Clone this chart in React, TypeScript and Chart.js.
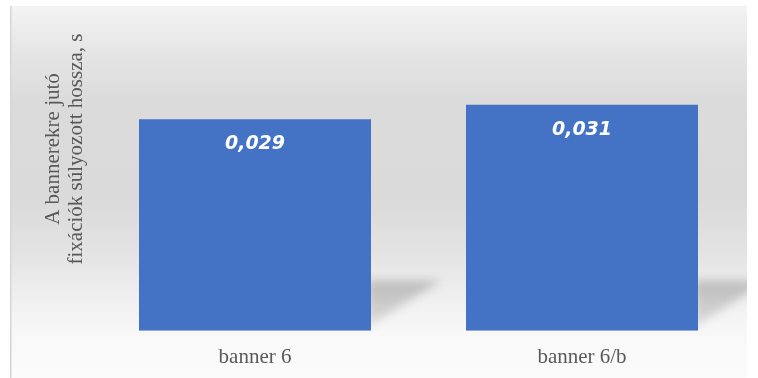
import React, { useEffect, useRef } from "react";
import { Chart, registerables } from "chart.js";

Chart.register(...registerables);

// Chart data
const categories: string[] = ["banner 6", "banner 6/b"];
const values: number[] = [0.029, 0.031];
const valueLabels: string[] = ["0,029", "0,031"];
const yTitleLines: string[] = ["A bannerekre jutó", "fixációk súlyozott hossza, s"];
const yMin = 0;
const yMax = 0.04;

const BAR_COLOR = "#4472c4";
const TEXT_COLOR = "#595959";
const SERIF = "'Liberation Serif', 'Times New Roman', serif";

// Panel background: soft vertical grey gradient with a thin left rule
const panelBackground = {
  id: "panelBackground",
  beforeDraw(chart: Chart) {
    const { ctx, width, height } = chart;
    ctx.save();
    ctx.fillStyle = "#ffffff";
    ctx.fillRect(0, 0, width, height);
    const x0 = 11, y0 = 6, x1 = 747, y1 = height;
    const g = ctx.createLinearGradient(0, y0, 0, y1);
    g.addColorStop(0, "#f3f3f3");
    g.addColorStop(0.14, "#e4e4e4");
    g.addColorStop(0.26, "#dbdbdb");
    g.addColorStop(0.52, "#dadada");
    g.addColorStop(0.66, "#e3e3e3");
    g.addColorStop(0.78, "#efefef");
    g.addColorStop(0.88, "#f8f8f8");
    g.addColorStop(1, "#fbfbfb");
    ctx.fillStyle = g;
    ctx.fillRect(x0, y0, x1 - x0, y1 - y0);
    ctx.fillStyle = "#d6d6d6";
    ctx.fillRect(10, y0, 1.5, y1 - y0);
    ctx.restore();
  },
};

// Soft floor shadow to the right of each bar
const barShadow = {
  id: "barShadow",
  beforeDatasetsDraw(chart: Chart) {
    const { ctx } = chart;
    const meta = chart.getDatasetMeta(0);
    ctx.save();
    ctx.beginPath();
    ctx.rect(11, 6, 736, chart.height - 6);
    ctx.clip();
    ctx.filter = "blur(5px)";
    meta.data.forEach((el: any) => {
      const right = el.x + el.width / 2;
      const base = el.base;
      const top = base - 50;
      const g = ctx.createLinearGradient(0, top, 0, base);
      g.addColorStop(0, "rgba(0,0,0,0.20)");
      g.addColorStop(1, "rgba(0,0,0,0.10)");
      ctx.fillStyle = g;
      ctx.beginPath();
      ctx.moveTo(right - 4, top);
      ctx.lineTo(right + 70, top);
      ctx.lineTo(right - 4, base - 4);
      ctx.closePath();
      ctx.fill();
    });
    ctx.restore();
  },
};

// Value labels inside the top of each bar
const valueLabelPlugin = {
  id: "valueLabelPlugin",
  afterDatasetsDraw(chart: Chart) {
    const { ctx } = chart;
    const meta = chart.getDatasetMeta(0);
    ctx.save();
    ctx.fillStyle = "#ffffff";
    ctx.font = "italic bold 19px 'DejaVu Sans', Verdana, sans-serif";
    ctx.textAlign = "center";
    ctx.textBaseline = "middle";
    meta.data.forEach((el: any, i: number) => {
      ctx.fillText(valueLabels[i], el.x, el.y + 25);
    });
    ctx.restore();
  },
};

// Two-line rotated y-axis title
const yTitlePlugin = {
  id: "yTitlePlugin",
  afterDraw(chart: Chart) {
    const { ctx } = chart;
    ctx.save();
    ctx.fillStyle = TEXT_COLOR;
    ctx.font = `21px ${SERIF}`;
    ctx.textAlign = "center";
    ctx.textBaseline = "middle";
    const cy = 149;
    const xs = [53, 76];
    yTitleLines.forEach((line, i) => {
      ctx.save();
      ctx.translate(xs[i], cy);
      ctx.rotate(-Math.PI / 2);
      ctx.fillText(line, 0, 0);
      ctx.restore();
    });
    ctx.restore();
  },
};

export default function App() {
  const canvasRef = useRef<HTMLCanvasElement | null>(null);

  useEffect(() => {
    document.body.style.margin = "0";
    const canvas = canvasRef.current;
    if (!canvas) return;
    const chart = new Chart(canvas, {
      type: "bar",
      data: {
        labels: categories,
        datasets: [
          {
            data: values,
            backgroundColor: BAR_COLOR,
            borderWidth: 0,
            barPercentage: 1,
            categoryPercentage: 0.7095,
          },
        ],
      },
      options: {
        responsive: false,
        animation: false,
        devicePixelRatio: 1,
        layout: { padding: { left: 91.5, right: 12.5, top: 39, bottom: -6 } },
        plugins: {
          legend: { display: false },
          tooltip: { enabled: false },
        },
        scales: {
          x: {
            grid: { display: false, drawTicks: false },
            border: { display: false },
            ticks: {
              color: TEXT_COLOR,
              font: { family: SERIF, size: 21 },
              padding: 14,
            },
          },
          y: {
            display: false,
            min: yMin,
            max: yMax,
          },
        },
      },
      plugins: [panelBackground, barShadow, valueLabelPlugin, yTitlePlugin],
    });
    return () => chart.destroy();
  }, []);

  return (
    <div style={{ position: "absolute", left: 0, top: 0, width: 758, height: 378 }}>
      <canvas ref={canvasRef} width={758} height={378} />
    </div>
  );
}
